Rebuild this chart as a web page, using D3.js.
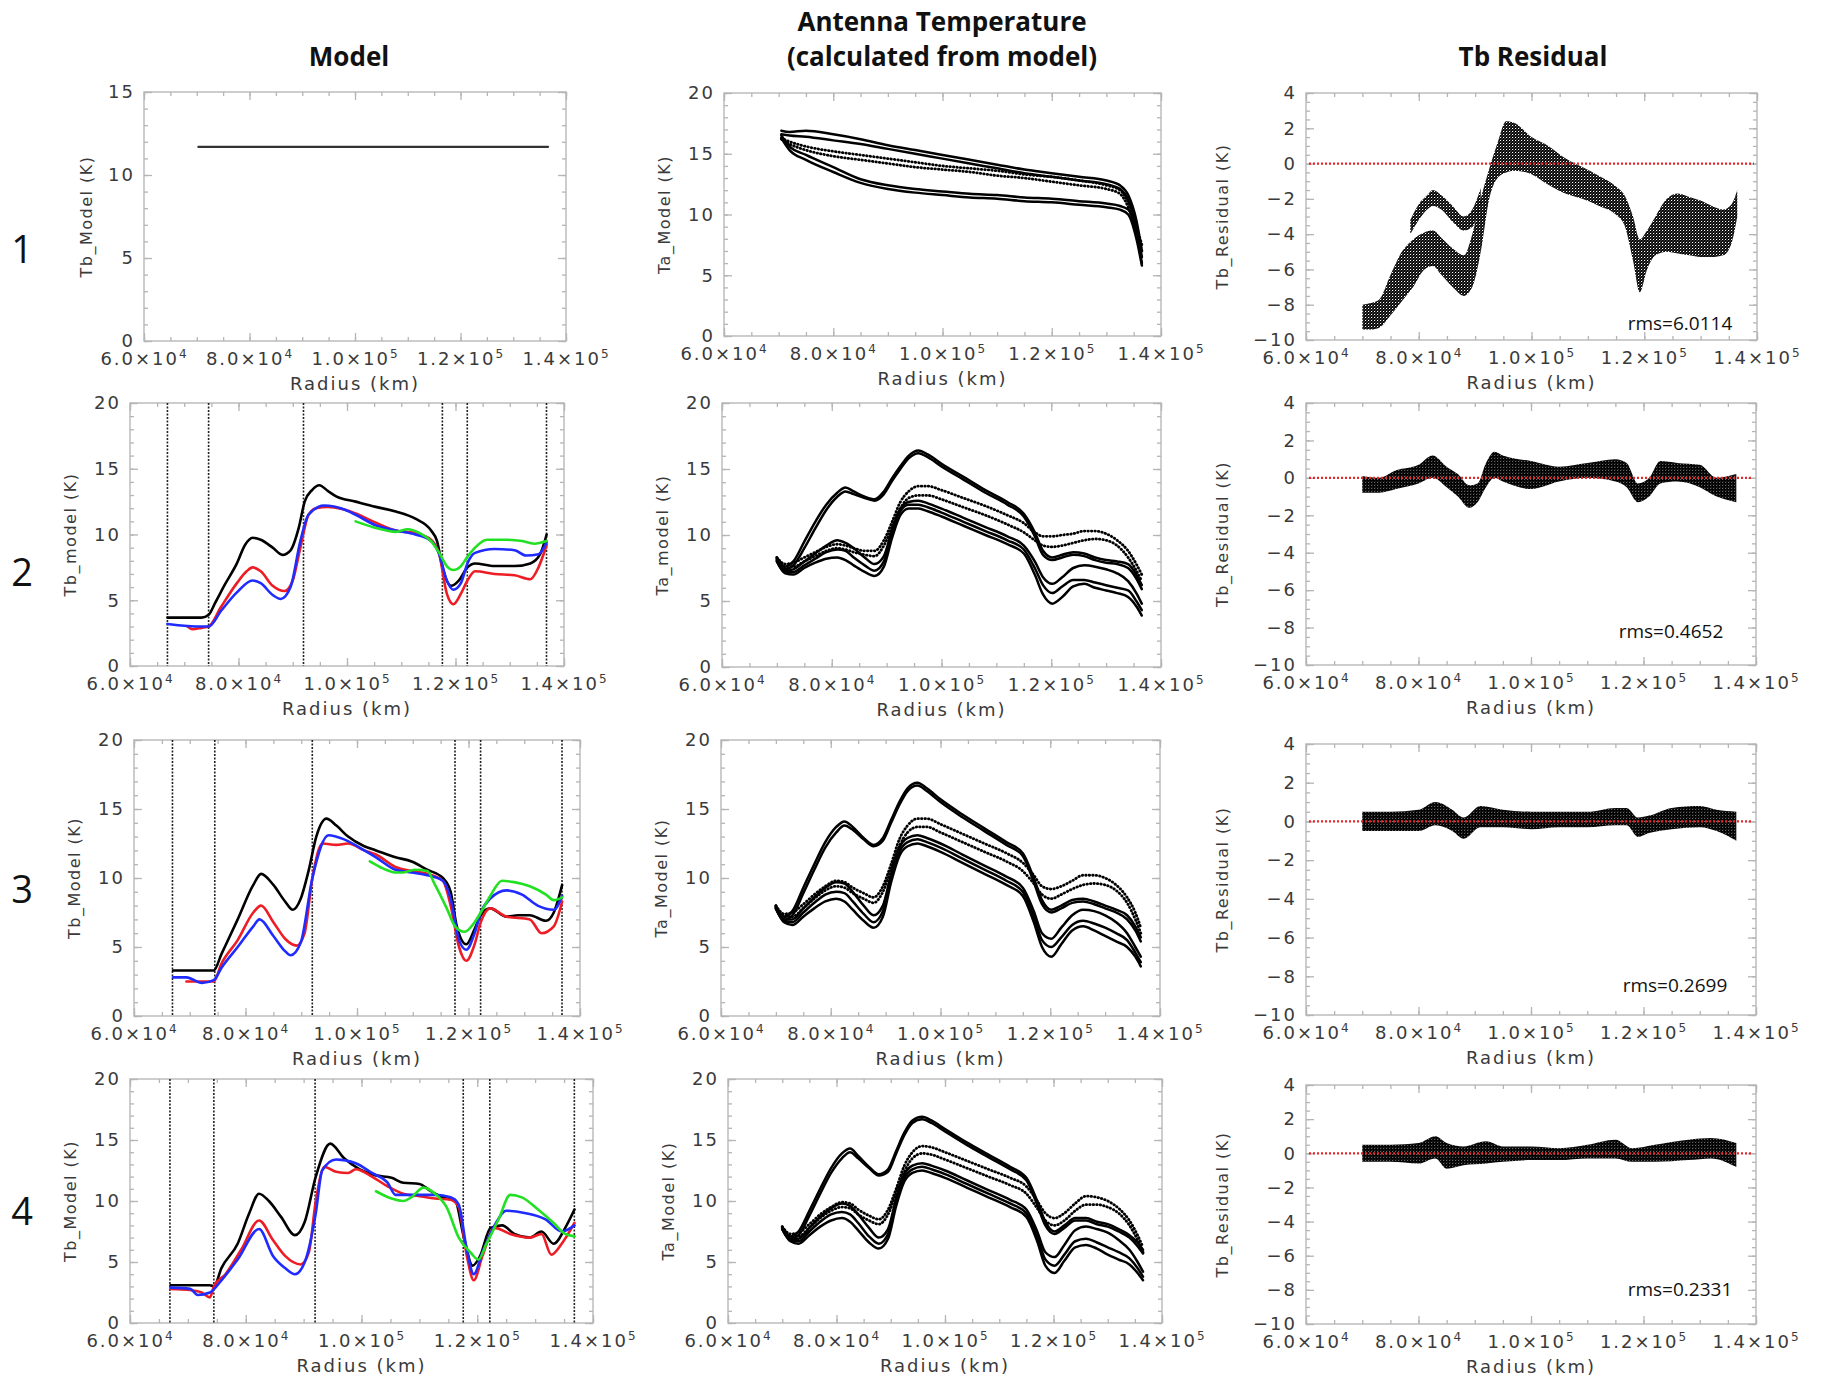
<!DOCTYPE html>
<html>
<head>
<meta charset="utf-8">
<script src="https://d3js.org/d3.v7.min.js"></script>
<style>
  body { margin: 0; background: #fff; }
  svg { display: block; }
  .tick text { font-family: "DejaVu Sans", sans-serif; font-size: 18px; fill: #3a3a3a; letter-spacing: 2px; }
  .axis-title { font-family: "DejaVu Sans", sans-serif; font-size: 16px; fill: #3a3a3a; letter-spacing: 1.5px; }
  .x-title { font-size: 18px; letter-spacing: 2px; }
  .col-title { font-family: "Open Sans", sans-serif; font-weight: 700; font-size: 26px; fill: #111; }
  .row-num { font-family: "Open Sans", sans-serif; font-size: 38px; fill: #111; }
  .rms { font-family: "Open Sans", sans-serif; font-size: 19px; fill: #111; }
</style>
</head>
<body>
<svg id="figure" width="1824" height="1376"></svg>
<script>
// ---- data ----
// radius axis
const xDomain = [60000, 140000];
const xMajor = [60000, 80000, 100000, 120000, 140000];
const xMinor = d3.range(60000, 140001, 5000);

// ring boundaries (dotted verticals in the model panels)
const ringEdges = [66900, 74490, 91980, 117580, 122170, 136775];

// row 1 model: constant Tb
const model1Line = [[70300, 11.7], [136600, 11.7]];

// row 2 model
const model2Black = [[66900,3.68],[73200,3.68],[74500,3.9],[75700,4.8],[77500,6.2],[79700,7.8],[81200,9.2],[82600,9.75],[84100,9.6],[86300,9.0],[88100,8.45],[89600,8.8],[91100,10.5],[92200,12.5],[93600,13.4],[94900,13.75],[96500,13.3],[98000,12.9],[101600,12.5],[105300,12.1],[109000,11.75],[112600,11.2],[115500,10.3],[116600,9.5],[117600,7.5],[119200,6.1],[120600,6.5],[122200,7.5],[123600,7.8],[127200,7.6],[130900,7.6],[133800,7.8],[135600,8.5],[136800,10.0]];
const model2Red = [[70600,3.0],[71500,2.8],[73200,2.9],[74500,3.0],[76800,4.5],[79700,6.3],[81500,7.2],[82600,7.5],[84100,7.2],[86300,6.1],[88500,5.7],[90000,6.5],[91400,9.0],[92900,11.5],[94300,12.0],[96500,12.1],[99500,11.9],[101600,11.6],[105300,10.9],[109000,10.3],[112600,10.1],[115500,9.6],[117000,8.5],[118400,5.5],[119600,4.7],[121000,5.5],[122200,6.5],[123600,7.2],[127200,7.0],[130900,6.9],[133800,6.6],[135300,7.5],[136800,9.2]];
const model2Blue = [[66900,3.2],[73200,3.0],[74500,3.0],[76800,4.2],[79700,5.6],[82600,6.5],[84100,6.3],[86300,5.4],[87800,5.1],[89600,6.0],[91400,9.5],[92900,11.5],[95800,12.2],[99500,11.9],[101600,11.5],[105300,10.7],[109000,10.3],[112600,10.0],[115500,9.5],[117000,8.5],[118400,6.5],[119600,5.8],[121000,6.3],[122200,7.8],[123600,8.6],[127200,8.9],[130900,8.8],[133000,8.4],[135300,8.5],[136800,9.4]];
const model2Green = [[101600,11.0],[105300,10.5],[109000,10.2],[111200,10.4],[113400,10.1],[115500,9.5],[117000,8.6],[118400,7.6],[119600,7.3],[121000,7.6],[122200,8.3],[123600,9.0],[125800,9.6],[129400,9.6],[132300,9.5],[134500,9.3],[136800,9.5]];

// row 3 model
const model3Black = [[67000,3.3],[74300,3.3],[75700,4.5],[78600,7.0],[81400,9.5],[82800,10.3],[85000,9.5],[87100,8.3],[88500,7.7],[89900,8.5],[91300,10.5],[92700,13.0],[94500,14.3],[96300,13.8],[98400,13.0],[101300,12.3],[103400,12.0],[106900,11.5],[109800,11.2],[112600,10.6],[115400,10.0],[116800,9.0],[117900,6.5],[119600,5.2],[121100,6.3],[122200,7.3],[123900,7.8],[126800,7.2],[128900,7.3],[131000,7.3],[133900,6.9],[135300,7.5],[136800,9.5]];
const model3Red = [[69400,2.5],[72200,2.5],[74300,2.5],[75700,3.8],[78600,5.5],[81400,7.5],[82800,8.0],[85000,6.8],[87100,5.6],[89200,5.1],[90600,6.0],[92000,10.0],[93800,12.5],[96300,12.4],[98400,12.5],[101300,12.0],[103400,11.7],[106900,10.8],[109800,10.5],[112600,10.3],[115400,9.8],[116800,8.0],[118300,5.0],[119600,4.0],[121100,5.2],[122200,6.8],[123900,7.8],[126800,7.2],[131000,7.0],[133100,6.0],[135300,6.5],[136800,8.3]];
const model3Blue = [[67000,2.8],[69400,2.8],[72200,2.4],[74300,2.6],[75700,3.5],[78600,5.0],[81400,6.5],[82500,7.0],[85000,5.8],[87100,4.7],[88100,4.4],[89900,5.3],[92000,10.0],[94900,13.1],[97700,12.8],[101300,12.0],[103400,11.5],[106900,10.6],[109800,10.4],[112600,10.2],[115400,9.8],[116800,8.5],[118300,5.5],[119600,4.8],[121100,6.0],[122200,7.5],[123900,8.5],[126800,9.1],[129600,8.8],[132400,8.0],[135300,7.7],[136800,8.7]];
const model3Green = [[102300,11.2],[104100,10.8],[106900,10.4],[108300,10.4],[110500,10.6],[112600,10.5],[114000,9.5],[116100,7.8],[117600,6.5],[119300,6.1],[121100,6.8],[122200,7.5],[123900,8.7],[126000,9.8],[128200,9.7],[131000,9.4],[133900,8.8],[135300,8.4],[136800,8.6]];

// row 4 model
const model4Black = [[67000,3.1],[73800,3.1],[74500,3.0],[75800,4.5],[78600,6.5],[80600,9.0],[82300,10.6],[84000,10.0],[86100,8.7],[88500,7.2],[90200,8.3],[92100,12.0],[94600,14.7],[97000,13.5],[99700,12.6],[102500,12.1],[105200,11.9],[107200,11.5],[110000,11.4],[112000,10.8],[114700,10.2],[116100,10.1],[117700,7.0],[119200,4.7],[120500,5.5],[122300,7.8],[124300,8.0],[126400,7.3],[129100,7.0],[131100,7.5],[133200,6.5],[135200,7.8],[136800,9.3]];
const model4Red = [[67000,2.8],[70400,2.7],[72400,2.5],[73800,2.1],[74500,3.0],[76500,4.0],[79200,6.0],[82300,8.4],[84700,6.8],[86800,5.5],[89500,4.8],[90900,5.8],[92100,10.0],[93600,12.8],[95600,12.4],[97700,12.3],[99000,12.6],[101800,12.0],[104500,11.2],[107200,10.6],[110000,10.4],[112700,10.2],[115400,10.1],[116800,9.5],[118200,5.5],[119400,3.5],[120900,5.5],[123000,7.8],[125700,7.3],[129100,7.0],[131100,7.3],[132800,5.6],[134600,6.5],[136800,8.2]];
const model4Blue = [[67000,2.9],[70400,2.8],[71700,2.3],[73800,2.5],[75800,3.5],[78600,5.2],[82300,7.7],[84700,5.5],[86800,4.5],[88500,4.0],[90200,5.0],[92100,9.0],[93200,12.5],[95600,13.4],[99000,13.1],[101800,12.3],[104500,11.5],[105900,10.5],[108600,10.5],[112700,10.5],[115400,10.3],[116800,9.7],[118200,6.0],[119400,4.0],[120900,5.8],[123000,8.0],[125000,9.2],[128400,9.0],[131800,8.5],[134600,7.5],[136800,8.0]];
const model4Green = [[102500,10.8],[105200,10.2],[107200,10.0],[108600,10.3],[110700,11.1],[112700,10.6],[114700,9.5],[116800,7.0],[118800,5.8],[120200,5.2],[121600,6.5],[123700,8.5],[125700,10.5],[127700,10.3],[130500,9.3],[133200,8.2],[135200,7.3],[136800,7.1]];

// row 1 antenna temperature
const ant1X = [70500, 72000, 75000, 80000, 85000, 90000, 95000, 100000, 105000, 110000, 115000, 120000, 125000, 130000, 132500, 134000, 135500, 136500];
const ant1A = [16.9, 16.8, 16.9, 16.6, 16.2, 15.7, 15.3, 14.9, 14.5, 14.1, 13.7, 13.4, 13.1, 12.8, 12.4, 11.6, 9.5, 7.0];
const ant1B = [16.6, 16.5, 16.4, 16.1, 15.8, 15.4, 15.0, 14.6, 14.2, 13.8, 13.4, 13.1, 12.8, 12.5, 12.1, 11.2, 9.0, 6.5];
const ant1C = [16.3, 16.0, 15.6, 15.2, 14.9, 14.6, 14.3, 14.0, 13.8, 13.6, 13.3, 13.1, 12.8, 12.4, 12.0, 11.0, 9.0, 7.5];
const ant1D = [16.2, 15.8, 15.3, 14.8, 14.5, 14.2, 13.9, 13.7, 13.5, 13.2, 13.0, 12.7, 12.4, 12.1, 11.7, 10.6, 8.6, 7.0];
const ant1E = [16.5, 15.6, 14.9, 13.9, 12.9, 12.4, 12.1, 11.9, 11.7, 11.6, 11.4, 11.3, 11.1, 10.9, 10.7, 10.4, 8.5, 6.0];
const ant1F = [16.3, 15.3, 14.5, 13.5, 12.6, 12.1, 11.8, 11.6, 11.4, 11.3, 11.1, 11.0, 10.8, 10.6, 10.4, 10.0, 8.0, 5.8];

// rows 2-4 antenna temperature share one radius grid
const antX = [70000, 71500, 73000, 75000, 77000, 79000, 81000, 82500, 84000, 86000, 87800, 89500, 91000, 92500, 94000, 95800, 97500, 100000, 104000, 108000, 112000, 115000, 117000, 118500, 120200, 122000, 124000, 126000, 128000, 130000, 132000, 134000, 135500, 136500];
const ant2A1 = [8.3, 7.6, 8.0, 9.5, 11.0, 12.3, 13.2, 13.6, 13.3, 12.9, 12.7, 13.3, 14.3, 15.2, 16.0, 16.4, 16.1, 15.4, 14.4, 13.4, 12.5, 11.6, 10.2, 8.8, 8.3, 8.5, 8.7, 8.6, 8.3, 8.1, 8.0, 7.8, 7.0, 6.2];
const ant2A2 = [8.1, 7.4, 7.7, 9.0, 10.5, 11.9, 12.9, 13.3, 13.1, 12.8, 12.6, 13.1, 14.1, 15.0, 15.8, 16.2, 15.9, 15.2, 14.2, 13.2, 12.3, 11.4, 9.9, 8.5, 8.1, 8.3, 8.5, 8.4, 8.1, 7.9, 7.8, 7.5, 6.7, 5.9];
const ant2B1 = [8.3, 7.8, 7.9, 8.3, 8.7, 9.1, 9.3, 9.2, 9.0, 8.8, 8.8, 9.6, 11.0, 12.5, 13.3, 13.7, 13.7, 13.4, 12.8, 12.2, 11.5, 10.9, 10.2, 9.9, 9.9, 10.0, 10.1, 10.3, 10.3, 10.1, 9.6, 8.8, 7.8, 7.0];
const ant2B2 = [8.2, 7.6, 7.6, 8.0, 8.4, 8.8, 9.0, 8.9, 8.7, 8.5, 8.4, 9.2, 10.6, 12.0, 12.8, 13.0, 13.0, 12.7, 12.1, 11.5, 10.8, 10.2, 9.6, 9.2, 9.1, 9.2, 9.4, 9.6, 9.7, 9.6, 9.2, 8.3, 7.3, 6.5];
const ant2C1 = [8.1, 7.3, 7.4, 8.0, 8.6, 9.2, 9.6, 9.4, 9.0, 8.3, 7.8, 8.4, 10.4, 12.0, 12.5, 12.6, 12.4, 12.0, 11.3, 10.6, 9.9, 9.2, 8.0, 6.8, 6.3, 6.8, 7.5, 7.7, 7.6, 7.4, 7.1, 6.5, 5.6, 4.8];
const ant2C2 = [8.0, 7.2, 7.2, 7.7, 8.2, 8.7, 8.9, 8.8, 8.3, 7.7, 7.3, 8.0, 10.1, 11.8, 12.3, 12.3, 12.1, 11.7, 11.0, 10.3, 9.6, 8.9, 7.5, 6.2, 5.6, 6.1, 6.6, 6.6, 6.4, 6.2, 6.0, 5.8, 5.0, 4.3];
const ant2C3 = [8.0, 7.1, 7.0, 7.5, 7.9, 8.2, 8.3, 8.1, 7.7, 7.2, 6.9, 7.6, 9.8, 11.5, 12.0, 12.0, 11.8, 11.4, 10.7, 10.0, 9.3, 8.6, 7.0, 5.5, 4.8, 5.3, 6.1, 6.3, 6.0, 5.8, 5.6, 5.3, 4.6, 3.9];

const ant3A1 = [8.0, 7.2, 7.6, 9.3, 11.0, 12.6, 13.7, 14.1, 13.7, 12.9, 12.4, 12.9, 14.2, 15.5, 16.5, 16.9, 16.5, 15.7, 14.6, 13.6, 12.6, 11.8, 10.0, 8.4, 7.7, 8.0, 8.4, 8.5, 8.3, 8.0, 7.7, 7.3, 6.5, 5.7];
const ant3A2 = [7.8, 7.0, 7.3, 8.9, 10.6, 12.2, 13.3, 13.8, 13.5, 12.8, 12.3, 12.7, 14.0, 15.3, 16.3, 16.7, 16.3, 15.5, 14.4, 13.4, 12.4, 11.6, 9.7, 8.1, 7.5, 7.8, 8.2, 8.3, 8.1, 7.8, 7.5, 7.0, 6.2, 5.4];
const ant3B1 = [8.0, 7.4, 7.5, 8.1, 8.8, 9.4, 9.8, 9.7, 9.3, 8.9, 8.6, 9.4, 11.0, 12.8, 13.8, 14.3, 14.3, 13.9, 13.2, 12.5, 11.8, 11.1, 10.2, 9.4, 9.2, 9.4, 9.8, 10.2, 10.2, 10.0, 9.5, 8.6, 7.5, 6.4];
const ant3B2 = [7.9, 7.2, 7.2, 7.8, 8.5, 9.1, 9.4, 9.3, 8.9, 8.5, 8.2, 9.0, 10.6, 12.3, 13.3, 13.7, 13.7, 13.3, 12.6, 11.9, 11.2, 10.5, 9.6, 8.8, 8.5, 8.8, 9.2, 9.5, 9.6, 9.5, 9.1, 8.2, 7.0, 6.0];
const ant3C1 = [7.9, 7.0, 7.0, 7.8, 8.6, 9.3, 9.7, 9.6, 9.0, 8.0, 7.3, 8.0, 10.3, 12.2, 12.9, 13.1, 12.9, 12.5, 11.7, 10.9, 10.1, 9.3, 7.6, 6.0, 5.6, 6.4, 7.3, 7.7, 7.6, 7.3, 6.8, 6.0, 5.0, 4.3];
const ant3C2 = [7.8, 6.9, 6.8, 7.5, 8.2, 8.8, 9.0, 8.9, 8.3, 7.4, 6.8, 7.6, 10.0, 11.9, 12.6, 12.8, 12.6, 12.2, 11.4, 10.6, 9.8, 9.0, 7.2, 5.5, 5.0, 5.7, 6.6, 6.9, 6.7, 6.4, 6.0, 5.5, 4.6, 3.9];
const ant3C3 = [7.8, 6.8, 6.6, 7.2, 7.8, 8.3, 8.5, 8.3, 7.7, 6.9, 6.4, 7.2, 9.7, 11.6, 12.3, 12.5, 12.3, 11.9, 11.1, 10.3, 9.5, 8.7, 6.8, 5.0, 4.3, 5.2, 6.2, 6.5, 6.2, 5.8, 5.4, 5.0, 4.3, 3.6];

const ant4A1 = [7.9, 7.1, 7.5, 9.2, 11.0, 12.7, 13.9, 14.3, 13.7, 12.8, 12.2, 12.6, 14.1, 15.6, 16.6, 16.9, 16.6, 15.9, 14.8, 13.8, 12.8, 11.9, 10.0, 8.3, 7.5, 8.0, 8.6, 8.6, 8.3, 8.1, 7.7, 7.2, 6.6, 6.0];
const ant4A2 = [7.7, 6.9, 7.2, 8.8, 10.6, 12.3, 13.5, 14.0, 13.5, 12.7, 12.1, 12.4, 13.9, 15.4, 16.4, 16.7, 16.4, 15.7, 14.6, 13.6, 12.6, 11.7, 9.7, 8.0, 7.3, 7.8, 8.4, 8.4, 8.1, 7.9, 7.5, 7.0, 6.3, 5.7];
const ant4B1 = [7.9, 7.3, 7.4, 8.1, 8.9, 9.5, 9.9, 9.8, 9.3, 8.8, 8.5, 9.3, 11.0, 12.9, 14.0, 14.5, 14.4, 14.0, 13.3, 12.6, 11.9, 11.2, 10.0, 9.0, 8.6, 9.0, 9.8, 10.4, 10.3, 10.0, 9.4, 8.4, 7.2, 6.2];
const ant4B2 = [7.8, 7.1, 7.1, 7.8, 8.6, 9.2, 9.5, 9.4, 8.9, 8.4, 8.1, 8.9, 10.6, 12.4, 13.5, 13.9, 13.8, 13.4, 12.7, 12.0, 11.3, 10.6, 9.4, 8.4, 8.0, 8.4, 9.2, 9.7, 9.7, 9.5, 9.0, 8.0, 6.8, 5.8];
const ant4C1 = [7.8, 6.9, 6.9, 7.8, 8.7, 9.4, 9.8, 9.6, 8.9, 7.8, 7.0, 7.7, 10.2, 12.2, 12.9, 13.1, 12.9, 12.5, 11.7, 10.9, 10.1, 9.3, 7.5, 5.8, 5.4, 6.4, 7.6, 7.9, 7.7, 7.4, 6.8, 6.0, 5.0, 4.2];
const ant4C2 = [7.7, 6.8, 6.7, 7.5, 8.3, 8.9, 9.1, 8.9, 8.2, 7.1, 6.5, 7.3, 9.9, 11.9, 12.6, 12.8, 12.6, 12.2, 11.4, 10.6, 9.8, 9.0, 7.1, 5.2, 4.7, 5.6, 6.7, 6.9, 6.6, 6.2, 5.8, 5.3, 4.5, 3.8];
const ant4C3 = [7.7, 6.7, 6.5, 7.2, 7.9, 8.4, 8.6, 8.3, 7.6, 6.6, 6.1, 6.9, 9.6, 11.6, 12.3, 12.5, 12.3, 11.9, 11.1, 10.3, 9.5, 8.7, 6.7, 4.7, 4.1, 5.1, 6.2, 6.4, 6.1, 5.6, 5.2, 4.8, 4.1, 3.5];

// residual scatter envelopes (low / high edge of the point cloud)
const res1X = [70000, 71500, 73000, 75000, 77000, 79000, 81000, 82500, 84000, 86000, 88000, 89500, 91000, 92500, 94000, 95500, 97000, 100000, 103000, 106000, 109000, 112000, 115000, 116500, 118000, 119200, 120500, 122000, 124000, 126000, 128000, 130000, 132000, 134000, 135500, 136500];
const res1Lo = [-9.4, -9.4, -9.3, -8.6, -7.8, -7.0, -6.0, -5.8, -6.3, -7.0, -7.5, -7.0, -5.0, -2.0, -0.8, -0.5, -0.4, -0.6, -1.2, -1.7, -2.0, -2.4, -2.9, -3.5, -5.5, -7.3, -6.0, -5.2, -5.0, -5.1, -5.2, -5.3, -5.3, -5.2, -4.5, -3.0];
const res1Hi = [-8.0, -7.9, -7.7, -6.3, -5.0, -4.3, -3.9, -3.8, -4.2, -4.8, -5.2, -4.0, -2.0, -0.3, 1.2, 2.4, 2.3, 1.5, 1.0, 0.3, -0.2, -0.7, -1.3, -1.8, -3.0, -4.3, -3.8, -3.0, -2.0, -1.7, -1.9, -2.1, -2.4, -2.6, -2.3, -1.5];
const res1StrandX = [78500, 80000, 81500, 82500, 84000, 86000, 88000, 89500, 91000];
const res1StrandLo = [-4.0, -3.2, -2.6, -2.4, -2.6, -3.3, -3.8, -3.6, -2.2];
const res1StrandHi = [-3.2, -2.3, -1.8, -1.5, -1.8, -2.4, -3.0, -2.6, -1.4];

const res2X = [70000, 73000, 76000, 80000, 82500, 85000, 87000, 89000, 90500, 92000, 93500, 95000, 100000, 105000, 110000, 115000, 117000, 119000, 121000, 123000, 126000, 130000, 133000, 136500];
const res2Lo = [-0.8, -0.8, -0.6, -0.3, 0.0, -0.5, -1.0, -1.6, -1.3, -0.5, 0.0, -0.2, -0.6, -0.2, 0.0, -0.2, -0.5, -1.3, -1.0, -0.3, -0.2, -0.5, -1.0, -1.3];
const res2Hi = [0.1, 0.0, 0.4, 0.7, 1.2, 0.6, 0.2, -0.4, -0.3, 0.8, 1.4, 1.2, 0.9, 0.6, 0.8, 1.0, 0.8, -0.3, 0.0, 0.9, 0.8, 0.7, 0.0, 0.2];

const res3X = [70000, 75000, 80000, 83000, 86000, 88000, 91000, 95000, 100000, 105000, 110000, 115000, 117000, 119000, 121000, 125000, 130000, 133000, 136500];
const res3Lo = [-0.5, -0.5, -0.5, -0.2, -0.5, -0.9, -0.3, -0.3, -0.4, -0.3, -0.3, -0.2, -0.2, -0.8, -0.6, -0.4, -0.3, -0.5, -1.0];
const res3Hi = [0.5, 0.5, 0.6, 1.0, 0.6, 0.2, 0.8, 0.6, 0.5, 0.5, 0.5, 0.7, 0.7, 0.2, 0.3, 0.7, 0.8, 0.6, 0.5];

const res4X = [70000, 75000, 80000, 83000, 85000, 88000, 92000, 95000, 100000, 105000, 110000, 115000, 118000, 122000, 128000, 132000, 136500];
const res4Lo = [-0.5, -0.5, -0.6, -0.3, -0.9, -0.7, -0.6, -0.5, -0.4, -0.4, -0.3, -0.3, -0.5, -0.5, -0.4, -0.3, -0.8];
const res4Hi = [0.5, 0.5, 0.6, 1.0, 0.6, 0.4, 0.7, 0.4, 0.4, 0.3, 0.5, 0.8, 0.3, 0.5, 0.8, 0.9, 0.6];

const rmsValues = ["6.0114", "0.4652", "0.2699", "0.2331"];

// ---- figure ----
const svg = d3.select("#figure");

// speckle patterns for the dense residual point clouds
const defs = svg.append("defs");
const dense = defs.append("pattern").attr("id", "dense")
    .attr("width", 3).attr("height", 3).attr("patternUnits", "userSpaceOnUse");
dense.append("circle").attr("cx", 0.75).attr("cy", 0.75).attr("r", 1.2);
dense.append("circle").attr("cx", 2.25).attr("cy", 2.25).attr("r", 1.2);
dense.append("circle").attr("cx", 2.25).attr("cy", 0.75).attr("r", 1.0);
dense.append("circle").attr("cx", 0.75).attr("cy", 2.25).attr("r", 0.6);
const sparse = defs.append("pattern").attr("id", "sparse")
    .attr("width", 3).attr("height", 3).attr("patternUnits", "userSpaceOnUse");
sparse.append("circle").attr("cx", 0.75).attr("cy", 0.75).attr("r", 1.15);
sparse.append("circle").attr("cx", 2.25).attr("cy", 2.25).attr("r", 1.15);
sparse.append("circle").attr("cx", 2.25).attr("cy", 0.75).attr("r", 0.7);

// column titles
svg.append("text").attr("class", "col-title").attr("x", 349).attr("y", 56)
    .attr("text-anchor", "middle").attr("dominant-baseline", "central").text("Model");
svg.append("text").attr("class", "col-title").attr("x", 942).attr("y", 21)
    .attr("text-anchor", "middle").attr("dominant-baseline", "central").text("Antenna Temperature");
svg.append("text").attr("class", "col-title").attr("x", 942).attr("y", 56)
    .attr("text-anchor", "middle").attr("dominant-baseline", "central").text("(calculated from model)");
svg.append("text").attr("class", "col-title").attr("x", 1533).attr("y", 56)
    .attr("text-anchor", "middle").attr("dominant-baseline", "central").text("Tb Residual");

// row numbers
[248, 571, 888, 1210].forEach((cy, i) => {
    svg.append("text").attr("class", "row-num").attr("x", 22).attr("y", cy)
        .attr("text-anchor", "middle").attr("dominant-baseline", "central").text(i + 1);
});

function addTicks(g, axis, transform) {
    const a = g.append("g").attr("transform", transform).call(axis);
    a.select(".domain").remove();
    a.selectAll(".tick line").attr("stroke", "#b5b5b5").attr("stroke-width", 1.3);
    return a;
}

// x labels in the IDL style: 6.0x10^4
function sciLabel(d) {
    const exp = Math.floor(Math.log10(d) + 1e-9);
    const mant = (d / Math.pow(10, exp)).toFixed(1);
    const t = d3.select(this).text(null);
    t.append("tspan").text(mant + "×10");
    t.append("tspan").attr("dy", "-0.6em").style("font-size", "12px").text(exp);
}

function drawFrame(box, yDomain, yMajor, yStep, yTitle, titleOffset) {
    const g = svg.append("g");
    const x = d3.scaleLinear().domain(xDomain).range([box.l, box.r]);
    const y = d3.scaleLinear().domain(yDomain).range([box.b, box.t]);
    const yMinor = d3.range(yDomain[0], yDomain[1] + 1e-6, yStep);

    g.append("rect")
        .attr("x", box.l).attr("y", box.t)
        .attr("width", box.r - box.l).attr("height", box.b - box.t)
        .attr("fill", "none").attr("stroke", "#bdbdbd").attr("stroke-width", 1.5);

    // minor ticks, all four sides, pointing inward
    addTicks(g, d3.axisBottom(x).tickValues(xMinor).tickSize(-4).tickFormat(""), `translate(0,${box.b})`);
    addTicks(g, d3.axisTop(x).tickValues(xMinor).tickSize(-4).tickFormat(""), `translate(0,${box.t})`);
    addTicks(g, d3.axisLeft(y).tickValues(yMinor).tickSize(-4).tickFormat(""), `translate(${box.l},0)`);
    addTicks(g, d3.axisRight(y).tickValues(yMinor).tickSize(-4).tickFormat(""), `translate(${box.r},0)`);

    // major ticks
    const bottom = addTicks(g, d3.axisBottom(x).tickValues(xMajor).tickSize(-8).tickPadding(11), `translate(0,${box.b})`);
    bottom.selectAll(".tick text").each(sciLabel);
    addTicks(g, d3.axisTop(x).tickValues(xMajor).tickSize(-8).tickFormat(""), `translate(0,${box.t})`);
    addTicks(g, d3.axisLeft(y).tickValues(yMajor).tickSize(-8).tickPadding(9).tickFormat(d3.format("d")), `translate(${box.l},0)`);
    addTicks(g, d3.axisRight(y).tickValues(yMajor).tickSize(-8).tickFormat(""), `translate(${box.r},0)`);

    g.append("text").attr("class", "axis-title x-title")
        .attr("x", (box.l + box.r) / 2).attr("y", box.b + 42)
        .attr("text-anchor", "middle").attr("dominant-baseline", "central")
        .text("Radius (km)");
    g.append("text").attr("class", "axis-title")
        .attr("transform", `translate(${box.l - titleOffset},${(box.t + box.b) / 2}) rotate(-90)`)
        .attr("text-anchor", "middle").attr("dominant-baseline", "central")
        .text(yTitle);

    return { g, x, y };
}

function drawLine(p, data, color, width, dash) {
    const line = d3.line().x(d => p.x(d[0])).y(d => p.y(d[1])).curve(d3.curveMonotoneX);
    p.g.append("path").datum(data)
        .attr("d", line)
        .attr("fill", "none")
        .attr("stroke", color)
        .attr("stroke-width", width)
        .attr("stroke-linecap", "round")
        .attr("stroke-linejoin", "round")
        .attr("stroke-dasharray", dash || null);
}

function drawBand(p, xs, lo, hi, fill) {
    const area = d3.area().x(d => p.x(d[0])).y0(d => p.y(d[1])).y1(d => p.y(d[2])).curve(d3.curveMonotoneX);
    p.g.append("path").datum(d3.zip(xs, lo, hi))
        .attr("d", area)
        .attr("fill", `url(#${fill})`);
}

// ---- panel layout (pixel boxes of the plot areas) ----
const modelBoxes = [
    { l: 144, r: 566, t: 92, b: 341 },
    { l: 130, r: 564, t: 403, b: 666 },
    { l: 134, r: 580, t: 740, b: 1016 },
    { l: 130, r: 593, t: 1079, b: 1323 }
];
const antBoxes = [
    { l: 724, r: 1161, t: 93, b: 336 },
    { l: 722, r: 1161, t: 403, b: 667 },
    { l: 721, r: 1160, t: 740, b: 1016 },
    { l: 728, r: 1162, t: 1079, b: 1323 }
];
const resBoxes = [
    { l: 1306, r: 1757, t: 93, b: 340 },
    { l: 1306, r: 1756, t: 403, b: 665 },
    { l: 1306, r: 1756, t: 744, b: 1015 },
    { l: 1306, r: 1756, t: 1085, b: 1324 }
];
const rmsPos = [[1680, 323], [1671, 631], [1675, 985], [1680, 1289]];

const modelTitles = ["Tb_Model (K)", "Tb_model (K)", "Tb_Model (K)", "Tb_Model (K)"];
const antTitles = ["Ta_Model (K)", "Ta_model (K)", "Ta_Model (K)", "Ta_Model (K)"];

// model column
const modelSets = [
    null,
    [model2Black, model2Red, model2Blue, model2Green],
    [model3Black, model3Red, model3Blue, model3Green],
    [model4Black, model4Red, model4Blue, model4Green]
];
const modelColors = ["#000000", "#ee1c24", "#1f2bff", "#22e022"];

modelBoxes.forEach((box, i) => {
    if (i === 0) {
        const p = drawFrame(box, [0, 15], [0, 5, 10, 15], 1, modelTitles[i], 58);
        drawLine(p, model1Line, "#333", 2.2);
        return;
    }
    const p = drawFrame(box, [0, 20], [0, 5, 10, 15, 20], 1, modelTitles[i], 60);
    p.g.selectAll(".ring").data(ringEdges).join("line")
        .attr("x1", d => p.x(d)).attr("x2", d => p.x(d))
        .attr("y1", box.t).attr("y2", box.b)
        .attr("stroke", "#222").attr("stroke-width", 1.6)
        .attr("stroke-dasharray", "2,1.5");
    // black first, then red, blue, green on top
    [0, 1, 2, 3].forEach(k => drawLine(p, modelSets[i][k], modelColors[k], 2.6));
});

// antenna temperature column
const antSets = [
    { xs: ant1X, solid: [ant1A, ant1B, ant1E, ant1F], dotted: [ant1C, ant1D] },
    { xs: antX, solid: [ant2A1, ant2A2, ant2C1, ant2C2, ant2C3], dotted: [ant2B1, ant2B2] },
    { xs: antX, solid: [ant3A1, ant3A2, ant3C1, ant3C2, ant3C3], dotted: [ant3B1, ant3B2] },
    { xs: antX, solid: [ant4A1, ant4A2, ant4C1, ant4C2, ant4C3], dotted: [ant4B1, ant4B2] }
];
antBoxes.forEach((box, i) => {
    const p = drawFrame(box, [0, 20], [0, 5, 10, 15, 20], 1, antTitles[i], 60);
    const set = antSets[i];
    set.solid.forEach(ys => drawLine(p, d3.zip(set.xs, ys), "#000", 2.5));
    set.dotted.forEach(ys => drawLine(p, d3.zip(set.xs, ys), "#000", 2.8, "0.5,3"));
});

// residual column
const resSets = [
    [res1X, res1Lo, res1Hi],
    [res2X, res2Lo, res2Hi],
    [res3X, res3Lo, res3Hi],
    [res4X, res4Lo, res4Hi]
];
resBoxes.forEach((box, i) => {
    const p = drawFrame(box, [-10, 4], [-10, -8, -6, -4, -2, 0, 2, 4], 0.5, "Tb_Residual (K)", 84);
    const [xs, lo, hi] = resSets[i];
    drawBand(p, xs, lo, hi, i === 0 ? "sparse" : "dense");
    if (i === 0) drawBand(p, res1StrandX, res1StrandLo, res1StrandHi, "sparse");
    // zero reference
    p.g.append("line")
        .attr("x1", p.x(xDomain[0]) + 3).attr("x2", p.x(xDomain[1]) - 3)
        .attr("y1", p.y(0)).attr("y2", p.y(0))
        .attr("stroke", "#e8262a").attr("stroke-width", 2.2)
        .attr("stroke-dasharray", "2,2");
    svg.append("text").attr("class", "rms")
        .attr("x", rmsPos[i][0]).attr("y", rmsPos[i][1])
        .attr("text-anchor", "middle").attr("dominant-baseline", "central")
        .text("rms=" + rmsValues[i]);
});
</script>
</body>
</html>
